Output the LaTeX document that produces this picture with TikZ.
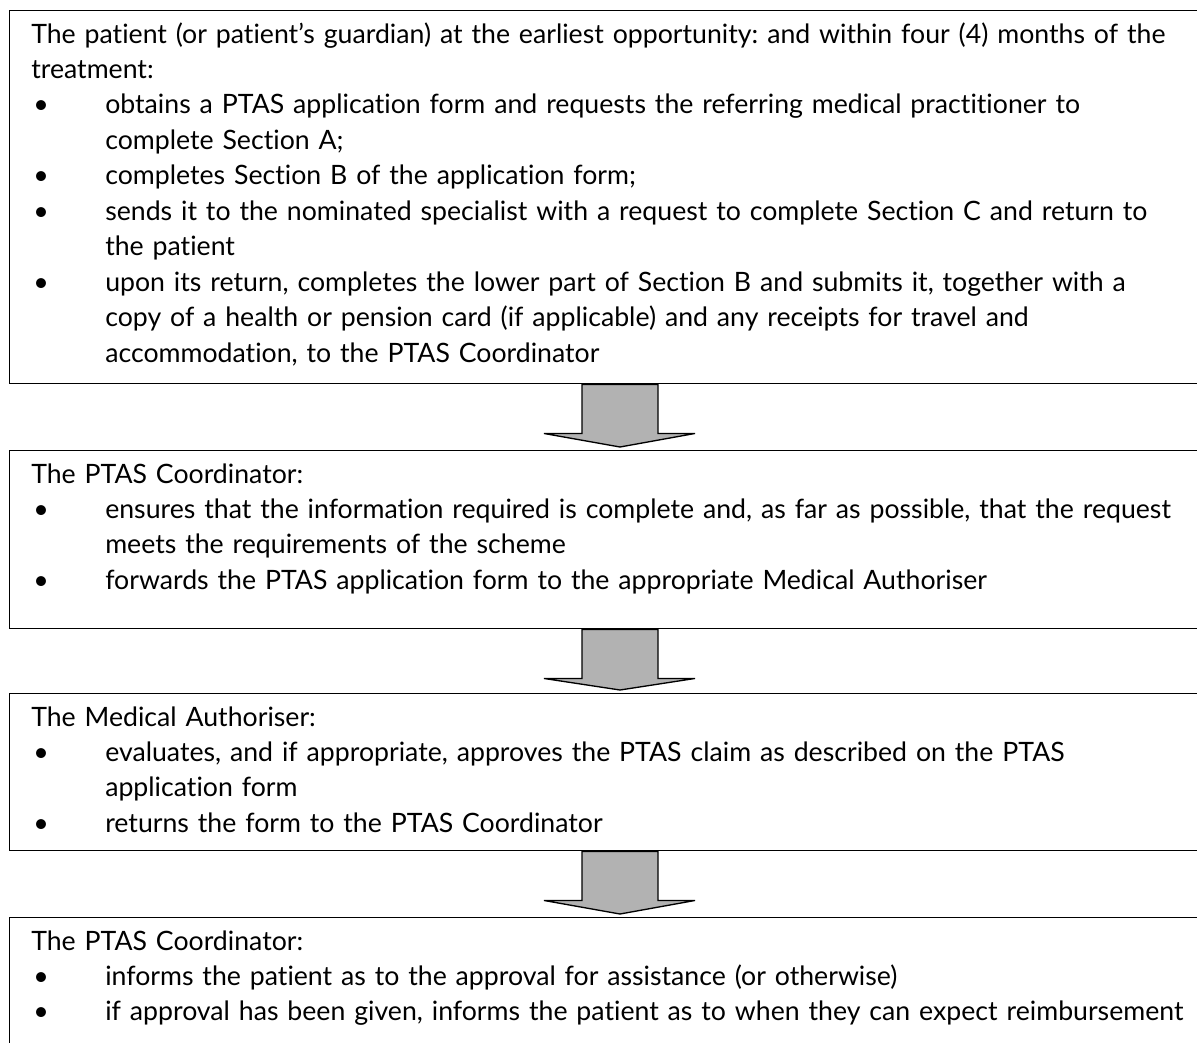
\documentclass[tikz,border=0pt]{standalone}
\usepackage{fontspec}
\setmainfont{Lato}[Ligatures=NoCommon]
\usetikzlibrary{calc}
\frenchspacing

\newcommand\bulline{\makebox[55.5pt][l]{\hspace{1.5pt}\textbullet}}
\newcommand\contline{\hspace*{55.5pt}}
\newcommand\flowarrow[2]{%
  \draw[flow] (#1.south -| 582,0) -- ++(0,49) -- ++(-38,0)
    -- ($(#2.north -| 620,0)+(0,-3)$) -- ($(#1.south -| 695,0)+(0,49)$)
    -- ++(-37,0) -- (#1.south -| 658,0) -- cycle;}

\begin{document}
\begin{tikzpicture}[x=0.75pt,y=-0.75pt]
\tikzstyle{panel}=[draw,line width=1.1pt,anchor=north west,minimum width=897pt,inner sep=0pt];
\tikzstyle{paneltext}=[anchor=base west,inner sep=0pt,text width=880pt,align=left,font=\fontsize{20}{26.6}\selectfont\frenchspacing];
\tikzstyle{flow}=[draw,fill=black!30,line width=1pt,line join=miter];
\useasboundingbox (0,0) rectangle (1197,1043);

\node[panel,minimum height=279.75pt] (b1) at (9,10) {};
\node[panel,minimum height=133.5pt] (b2) at (9,450) {};
\node[panel,minimum height=117.75pt] (b3) at (9,693) {};
\node[panel,minimum height=120pt] (b4) at (9,917) {};

\node[paneltext] (t1) at ($(b1.north west)+(22,33)$) {%
The patient (or patient’s guardian) at the earliest opportunity: and within four (4) months of the\\
treatment:\\
\bulline obtains a PTAS application form and requests the referring medical practitioner to\\
\contline complete Section A;\\
\bulline completes Section B of the application form;\\
\bulline sends it to the nominated specialist with a request to complete Section C and return to\\
\contline the patient\\
\bulline upon its return, completes the lower part of Section B and submits it, together with a\\
\contline copy of a health or pension card (if applicable) and any receipts for travel and\\
\contline accommodation, to the PTAS Coordinator};

\node[paneltext] (t2) at ($(b2.north west)+(22,33)$) {%
The PTAS Coordinator:\\
\bulline ensures that the information required is complete and, as far as possible, that the request\\
\contline meets the requirements of the scheme\\
\bulline forwards the PTAS application form to the appropriate Medical Authoriser};

\node[paneltext] (t3) at ($(b3.north west)+(22,33)$) {%
The Medical Authoriser:\\
\bulline evaluates, and if appropriate, approves the PTAS claim as described on the PTAS\\
\contline application form\\
\bulline returns the form to the PTAS Coordinator};

\node[paneltext] (t4) at ($(b4.north west)+(22,33)$) {%
The PTAS Coordinator:\\
\bulline informs the patient as to the approval for assistance (or otherwise)\\
\bulline if approval has been given, informs the patient as to when they can expect reimbursement};

\flowarrow{b1}{b2}
\flowarrow{b2}{b3}
\flowarrow{b3}{b4}
\end{tikzpicture}
\end{document}
